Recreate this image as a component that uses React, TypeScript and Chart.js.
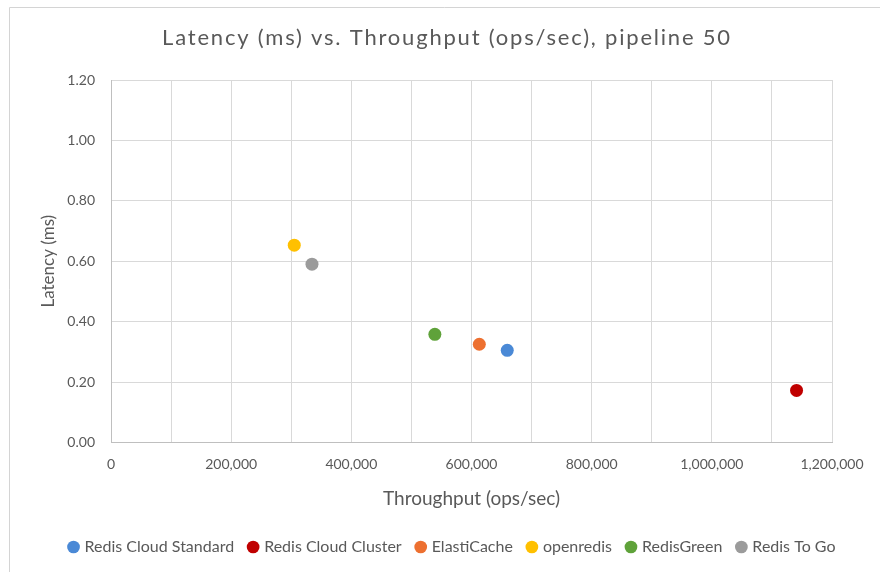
import React, { useEffect, useRef } from "react";
import { Chart, registerables } from "chart.js";

Chart.register(...registerables);

const seriesNames = [
  "Redis Cloud Standard",
  "Redis Cloud Cluster",
  "ElastiCache",
  "openredis",
  "RedisGreen",
  "Redis To Go",
];
const throughput = [659500, 1141000, 613000, 305000, 539000, 334500];
const latency = [0.305, 0.172, 0.325, 0.653, 0.358, 0.59];
const seriesColors = ["#4a89d6", "#c00000", "#ed7030", "#ffc000", "#5fa23a", "#9b9b9b"];

const xMin = 0;
const xMax = 1200000;
const xGridStep = 100000;
const xLabelStep = 200000;
const yMin = 0;
const yMax = 1.2;
const yStep = 0.2;

const titleText = "Latency (ms) vs. Throughput (ops/sec), pipeline 50";
const xTitle = "Throughput (ops/sec)";
const yTitle = "Latency (ms)";

const FONT = "Lato";
const TXT = "#595959";

const framePlugin = {
  id: "frame",
  beforeDraw(chart: any) {
    const ctx = chart.ctx;
    ctx.save();
    ctx.fillStyle = "#ffffff";
    ctx.fillRect(0, 0, chart.width, chart.height);
    ctx.strokeStyle = "#d4d4d4";
    ctx.lineWidth = 1;
    ctx.beginPath();
    ctx.moveTo(9.5, chart.height);
    ctx.lineTo(9.5, 7.5);
    ctx.lineTo(chart.width, 7.5);
    ctx.stroke();
    ctx.restore();
  },
  afterDraw(chart: any) {
    const ctx = chart.ctx;
    ctx.save();
    ctx.fillStyle = TXT;
    ctx.font = `22px ${FONT}`;
    try {
      (ctx as any).letterSpacing = "1.8px";
    } catch (e) {}
    ctx.textAlign = "center";
    ctx.textBaseline = "middle";
    ctx.fillText(titleText, 447, 38);
    ctx.restore();
  },
};

export default function App() {
  const ref = useRef<HTMLCanvasElement | null>(null);
  useEffect(() => {
    if (!ref.current) return;
    const chart = new Chart(ref.current, {
      type: "scatter",
      data: {
        datasets: seriesNames.map((name, i) => ({
          label: name,
          data: [{ x: throughput[i], y: latency[i] }],
          backgroundColor: seriesColors[i],
          borderColor: seriesColors[i],
          borderWidth: 0,
          pointRadius: 6.5,
          pointHoverRadius: 6.5,
          pointStyle: "circle",
        })),
      },
      options: {
        responsive: false,
        animation: false,
        events: [],
        layout: { padding: { left: 26, right: 0, top: 80, bottom: 7 } },
        plugins: {
          tooltip: { enabled: false },
          title: { display: false },
          legend: {
            position: "bottom",
            labels: {
              usePointStyle: true,
              pointStyle: "circle",
              boxWidth: 6,
              boxHeight: 9,
              padding: 16,
              color: TXT,
              font: { family: FONT, size: 16 },
            },
          },
        },
        scales: {
          x: {
            type: "linear",
            min: xMin,
            max: xMax,
            grid: { color: "#d9d9d9", drawTicks: false, lineWidth: 1 },
            border: { color: "#bfbfbf", width: 1 },
            ticks: {
              stepSize: xGridStep,
              padding: 14,
              color: TXT,
              font: { family: FONT, size: 14 },
              maxRotation: 0,
              autoSkip: false,
              callback: (v: any) =>
                Number(v) % xLabelStep === 0 ? Number(v).toLocaleString("en-US") : "",
            },
            title: {
              display: true,
              text: xTitle,
              color: TXT,
              font: { family: FONT, size: 19 },
              padding: { top: 0, bottom: 13 },
            },
          },
          y: {
            type: "linear",
            position: "left",
            min: yMin,
            max: yMax,
            grid: { color: "#d9d9d9", drawTicks: false, lineWidth: 1 },
            border: { color: "#bfbfbf", width: 1 },
            ticks: {
              stepSize: yStep,
              padding: 16,
              color: TXT,
              font: { family: FONT, size: 14 },
              callback: (v: any) => Number(v).toFixed(2),
            },
            title: {
              display: true,
              text: yTitle,
              color: TXT,
              font: { family: FONT, size: 17 },
              padding: { top: 12, bottom: 0 },
            },
            afterFit: (scale: any) => {
              scale.width = 85;
            },
          },
          yRightSpace: {
            type: "linear",
            axis: "y",
            position: "right",
            display: true,
            min: yMin,
            max: yMax,
            grid: { display: false, drawOnChartArea: false, drawTicks: false },
            border: { display: false },
            ticks: { display: false },
            title: { display: false },
            afterFit: (scale: any) => {
              scale.width = 48;
            },
          },
        },
      },
      plugins: [framePlugin],
    } as any);
    return () => chart.destroy();
  }, []);
  return (
    <div style={{ position: "absolute", left: 0, top: 0, width: 880, height: 572 }}>
      <canvas ref={ref} width={880} height={572} />
    </div>
  );
}
